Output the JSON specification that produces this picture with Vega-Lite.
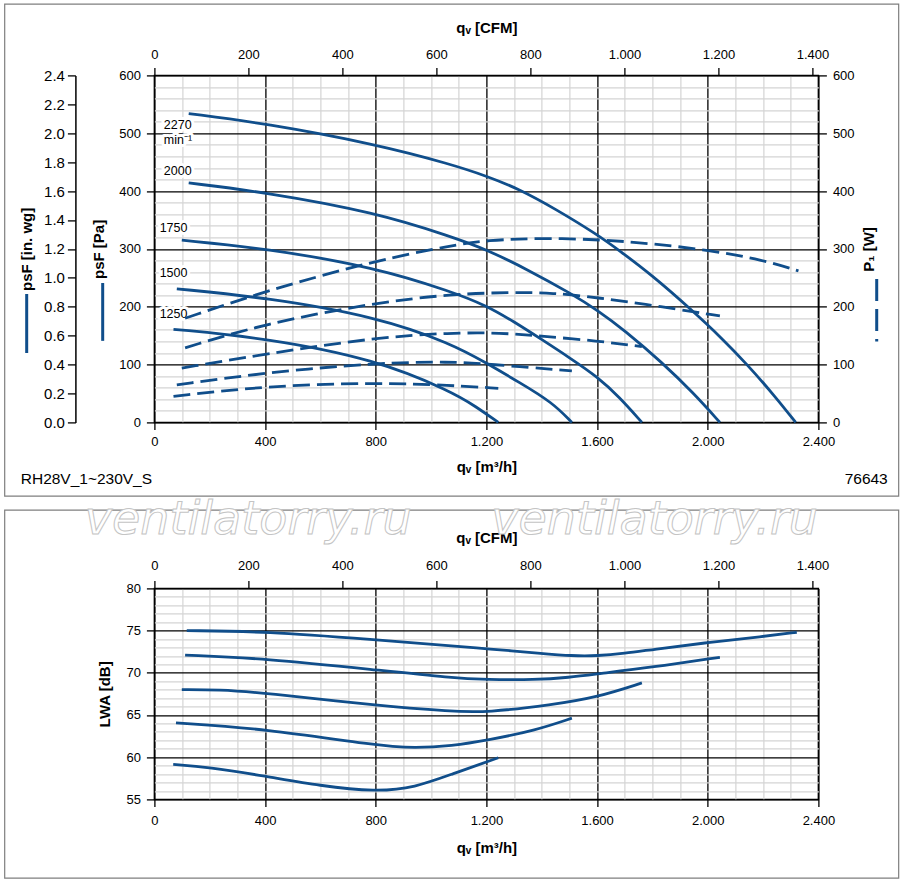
{
  "$schema": "https://vega.github.io/schema/vega-lite/v6.json",
  "background": "white",
  "padding": {"left": 2.4, "top": 2.4, "right": 2, "bottom": 1},
  "bounds": "flush",
  "spacing": 166,
  "config": {
    "view": {"stroke": "#000", "strokeWidth": 1.5},
    "axis": {
      "labelFont": "Liberation Sans", "titleFont": "Liberation Sans",
      "labelColor": "#000", "titleColor": "#000", "tickColor": "#000", "domainColor": "#000",
      "labelFontSize": 13, "titleFontSize": 15, "titleFontWeight": "bold", "labelFlush": false,
      "gridColor": "#000", "gridWidth": 1.3, "tickWidth": 1.3, "domainWidth": 1.5
    },
    "text": {"font": "Liberation Sans"}
  },
  "datasets": {
    "pressure": [
      {"n": 2270, "q": 124, "p": 534}, {"n": 2270, "q": 400, "p": 517}, {"n": 2270, "q": 800, "p": 481},
      {"n": 2270, "q": 1075, "p": 446}, {"n": 2270, "q": 1200, "p": 426}, {"n": 2270, "q": 1316, "p": 404},
      {"n": 2270, "q": 1450, "p": 369}, {"n": 2270, "q": 1600, "p": 325}, {"n": 2270, "q": 1681, "p": 297},
      {"n": 2270, "q": 1800, "p": 254}, {"n": 2270, "q": 1943, "p": 194}, {"n": 2270, "q": 2050, "p": 146},
      {"n": 2270, "q": 2141, "p": 101}, {"n": 2270, "q": 2240, "p": 47}, {"n": 2270, "q": 2318, "p": 0},
      {"n": 2000, "q": 124, "p": 414}, {"n": 2000, "q": 400, "p": 398}, {"n": 2000, "q": 800, "p": 363},
      {"n": 2000, "q": 1075, "p": 321}, {"n": 2000, "q": 1200, "p": 299}, {"n": 2000, "q": 1350, "p": 264},
      {"n": 2000, "q": 1509, "p": 222}, {"n": 2000, "q": 1601, "p": 194}, {"n": 2000, "q": 1700, "p": 159},
      {"n": 2000, "q": 1834, "p": 104}, {"n": 2000, "q": 1950, "p": 50}, {"n": 2000, "q": 2044, "p": 0},
      {"n": 1750, "q": 99, "p": 315}, {"n": 1750, "q": 400, "p": 301}, {"n": 1750, "q": 800, "p": 268},
      {"n": 1750, "q": 1075, "p": 226}, {"n": 1750, "q": 1200, "p": 202}, {"n": 1750, "q": 1300, "p": 174},
      {"n": 1750, "q": 1401, "p": 143}, {"n": 1750, "q": 1500, "p": 112}, {"n": 1750, "q": 1601, "p": 79},
      {"n": 1750, "q": 1680, "p": 44}, {"n": 1750, "q": 1762, "p": 0},
      {"n": 1500, "q": 81, "p": 231}, {"n": 1500, "q": 400, "p": 216}, {"n": 1500, "q": 800, "p": 183},
      {"n": 1500, "q": 1075, "p": 136}, {"n": 1500, "q": 1202, "p": 102}, {"n": 1500, "q": 1320, "p": 69},
      {"n": 1500, "q": 1437, "p": 35}, {"n": 1500, "q": 1509, "p": 0},
      {"n": 1250, "q": 69, "p": 161}, {"n": 1250, "q": 400, "p": 146}, {"n": 1250, "q": 800, "p": 109},
      {"n": 1250, "q": 1075, "p": 53}, {"n": 1250, "q": 1160, "p": 28}, {"n": 1250, "q": 1243, "p": 0}
    ],
    "power": [
      {"n": 2270, "q": 111, "w": 180}, {"n": 2270, "q": 400, "w": 227}, {"n": 2270, "q": 800, "w": 280},
      {"n": 2270, "q": 1075, "w": 306}, {"n": 2270, "q": 1200, "w": 315}, {"n": 2270, "q": 1400, "w": 319},
      {"n": 2270, "q": 1617, "w": 316}, {"n": 2270, "q": 1800, "w": 309}, {"n": 2270, "q": 2002, "w": 298},
      {"n": 2270, "q": 2200, "w": 281}, {"n": 2270, "q": 2328, "w": 262},
      {"n": 2000, "q": 111, "w": 129}, {"n": 2000, "q": 400, "w": 171}, {"n": 2000, "q": 800, "w": 207},
      {"n": 2000, "q": 1075, "w": 222}, {"n": 2000, "q": 1300, "w": 225}, {"n": 2000, "q": 1437, "w": 224},
      {"n": 2000, "q": 1601, "w": 216}, {"n": 2000, "q": 1834, "w": 200}, {"n": 2000, "q": 2044, "w": 184},
      {"n": 1750, "q": 99, "w": 94}, {"n": 1750, "q": 400, "w": 118}, {"n": 1750, "q": 800, "w": 147},
      {"n": 1750, "q": 1075, "w": 155}, {"n": 1750, "q": 1250, "w": 155}, {"n": 1750, "q": 1401, "w": 149},
      {"n": 1750, "q": 1601, "w": 141}, {"n": 1750, "q": 1762, "w": 131},
      {"n": 1500, "q": 81, "w": 65}, {"n": 1500, "q": 400, "w": 86}, {"n": 1500, "q": 800, "w": 103},
      {"n": 1500, "q": 1075, "w": 105}, {"n": 1500, "q": 1202, "w": 101}, {"n": 1500, "q": 1509, "w": 89},
      {"n": 1250, "q": 69, "w": 45}, {"n": 1250, "q": 400, "w": 63}, {"n": 1250, "q": 800, "w": 69},
      {"n": 1250, "q": 1075, "w": 64}, {"n": 1250, "q": 1243, "w": 59}
    ],
    "sound": [
      {"n": 2270, "q": 117, "l": 75.0}, {"n": 2270, "q": 400, "l": 74.9}, {"n": 2270, "q": 800, "l": 73.9},
      {"n": 2270, "q": 1075, "l": 73.2}, {"n": 2270, "q": 1202, "l": 72.85}, {"n": 2270, "q": 1400, "l": 72.3},
      {"n": 2270, "q": 1509, "l": 72.0}, {"n": 2270, "q": 1601, "l": 72.0}, {"n": 2270, "q": 1700, "l": 72.3},
      {"n": 2270, "q": 1798, "l": 72.75}, {"n": 2270, "q": 2002, "l": 73.6}, {"n": 2270, "q": 2200, "l": 74.3},
      {"n": 2270, "q": 2322, "l": 74.8},
      {"n": 2000, "q": 111, "l": 72.1}, {"n": 2000, "q": 400, "l": 71.7}, {"n": 2000, "q": 800, "l": 70.35},
      {"n": 2000, "q": 1075, "l": 69.4}, {"n": 2000, "q": 1202, "l": 69.2}, {"n": 2000, "q": 1375, "l": 69.16},
      {"n": 2000, "q": 1500, "l": 69.45}, {"n": 2000, "q": 1601, "l": 69.87}, {"n": 2000, "q": 1798, "l": 70.65},
      {"n": 2000, "q": 2044, "l": 71.84},
      {"n": 1750, "q": 99, "l": 68.0}, {"n": 1750, "q": 231, "l": 68.0}, {"n": 1750, "q": 400, "l": 67.62},
      {"n": 1750, "q": 800, "l": 66.12}, {"n": 1750, "q": 1075, "l": 65.41}, {"n": 1750, "q": 1202, "l": 65.3},
      {"n": 1750, "q": 1437, "l": 66.2}, {"n": 1750, "q": 1601, "l": 67.1}, {"n": 1750, "q": 1762, "l": 68.8},
      {"n": 1500, "q": 78, "l": 64.07}, {"n": 1500, "q": 400, "l": 63.37}, {"n": 1500, "q": 800, "l": 61.39},
      {"n": 1500, "q": 942, "l": 61.05}, {"n": 1500, "q": 1075, "l": 61.35}, {"n": 1500, "q": 1202, "l": 62.0},
      {"n": 1500, "q": 1376, "l": 63.16}, {"n": 1500, "q": 1509, "l": 64.62},
      {"n": 1250, "q": 68, "l": 59.14}, {"n": 1250, "q": 194, "l": 58.82}, {"n": 1250, "q": 400, "l": 57.76},
      {"n": 1250, "q": 600, "l": 56.6}, {"n": 1250, "q": 800, "l": 55.9},
      {"n": 1250, "q": 942, "l": 56.4}, {"n": 1250, "q": 1075, "l": 58.0}, {"n": 1250, "q": 1243, "l": 59.93}
    ],
    "speedLabels": [
      {"t": "2270", "q": 34, "p": 514}, {"t": "min⁻¹", "q": 34, "p": 489},
      {"t": "2000", "q": 34, "p": 435}, {"t": "1750", "q": 19, "p": 336},
      {"t": "1500", "q": 19, "p": 259}, {"t": "1250", "q": 19, "p": 187}
    ]
  },
  "vconcat": [
    {
      "width": 664,
      "height": 347,
      "resolve": {"scale": {"x": "independent", "y": "independent"}},
      "layer": [
        {
          "data": {"values": [{}]},
          "mark": {"type": "point", "opacity": 0},
          "encoding": {
            "x": {"datum": 0, "type": "quantitative", "scale": {"domain": [0, 2400], "nice": false, "zero": false},
              "axis": {"orient": "bottom", "values": [100, 200, 300, 500, 600, 700, 900, 1000, 1100, 1300, 1400, 1500, 1700, 1800, 1900, 2100, 2200, 2300],
                "grid": true, "gridColor": "#d4d4d4", "gridWidth": 1.2, "labels": false, "ticks": false, "domain": false, "title": null}},
            "y": {"datum": 0, "type": "quantitative", "scale": {"domain": [0, 600], "nice": false},
              "axis": {"orient": "left", "values": [20, 40, 60, 80, 120, 140, 160, 180, 220, 240, 260, 280, 320, 340, 360, 380, 420, 440, 460, 480, 520, 540, 560, 580],
                "grid": true, "gridColor": "#d4d4d4", "gridWidth": 1.2, "labels": false, "ticks": false, "domain": false, "title": null}}
          }
        },
        {
          "layer": [
            {
              "data": {"values": [{}]},
              "mark": {"type": "rect", "filled": false, "color": "#7f7f7f", "strokeWidth": 1.2},
              "encoding": {
                "x": {"datum": -541.1, "type": "quantitative", "scale": {"domain": [0, 2400], "nice": false, "zero": false}},
                "x2": {"datum": 2690.2},
                "y": {"datum": 723.3, "type": "quantitative", "scale": {"domain": [0, 600], "nice": false}},
                "y2": {"datum": -127.4}
              }
            },
            {
              "data": {"values": [{}]},
              "mark": {"type": "rule", "color": "#104e8b", "strokeWidth": 3},
              "encoding": {
                "x": {"datum": -461.6, "type": "quantitative", "scale": {"domain": [0, 2400], "nice": false, "zero": false}},
                "y": {"datum": 222, "type": "quantitative", "scale": {"domain": [0, 600], "nice": false}},
                "y2": {"datum": 120}
              }
            },
            {
              "data": {"values": [{}]},
              "mark": {"type": "rule", "color": "#104e8b", "strokeWidth": 3},
              "encoding": {
                "x": {"datum": -186.9, "type": "quantitative", "scale": {"domain": [0, 2400], "nice": false, "zero": false}},
                "y": {"datum": 241, "type": "quantitative", "scale": {"domain": [0, 600], "nice": false}},
                "y2": {"datum": 141}
              }
            },
            {
              "data": {"values": [{}]},
              "mark": {"type": "rule", "color": "#104e8b", "strokeWidth": 3, "strokeDash": [22, 8]},
              "encoding": {
                "x": {"datum": 2610.8, "type": "quantitative", "scale": {"domain": [0, 2400], "nice": false, "zero": false}},
                "y": {"datum": 248, "type": "quantitative", "scale": {"domain": [0, 600], "nice": false}},
                "y2": {"datum": 140}
              }
            },
            {
              "data": {"values": [{}]},
              "mark": {"type": "text", "align": "left", "baseline": "middle", "fontSize": 15.5, "color": "#000"},
              "encoding": {
                "text": {"value": "RH28V_1~230V_S"},
                "x": {"datum": -483, "type": "quantitative", "scale": {"domain": [0, 2400], "nice": false, "zero": false}},
                "y": {"datum": -98, "type": "quantitative", "scale": {"domain": [0, 600], "nice": false}}
              }
            },
            {
              "data": {"values": [{}]},
              "mark": {"type": "text", "align": "right", "baseline": "middle", "fontSize": 15.5, "color": "#000"},
              "encoding": {
                "text": {"value": "76643"},
                "x": {"datum": 2650.6, "type": "quantitative", "scale": {"domain": [0, 2400], "nice": false, "zero": false}},
                "y": {"datum": -98, "type": "quantitative", "scale": {"domain": [0, 600], "nice": false}}
              }
            },
            {
              "data": {"name": "speedLabels"},
              "mark": {"type": "text", "align": "left", "baseline": "middle", "fontSize": 12.5, "fill": "#fff", "stroke": "#fff", "strokeWidth": 6, "strokeJoin": "round"},
              "encoding": {
                "text": {"field": "t"},
                "x": {"field": "q", "type": "quantitative", "scale": {"domain": [0, 2400], "nice": false, "zero": false}},
                "y": {"field": "p", "type": "quantitative", "scale": {"domain": [0, 600], "nice": false}}
              }
            },
            {
              "data": {"name": "speedLabels"},
              "mark": {"type": "text", "align": "left", "baseline": "middle", "fontSize": 12.5, "color": "#000"},
              "encoding": {
                "text": {"field": "t"},
                "x": {"field": "q", "type": "quantitative", "scale": {"domain": [0, 2400], "nice": false, "zero": false}},
                "y": {"field": "p", "type": "quantitative", "scale": {"domain": [0, 600], "nice": false}}
              }
            },
            {
              "data": {"name": "power"},
              "mark": {"type": "line", "interpolate": "basis", "color": "#104e8b", "strokeWidth": 2.8, "strokeDash": [17, 7]},
              "encoding": {
                "x": {"field": "q", "type": "quantitative", "scale": {"domain": [0, 2400], "nice": false, "zero": false}},
                "y": {"field": "w", "type": "quantitative", "scale": {"domain": [0, 600], "nice": false}},
                "detail": {"field": "n"}
              }
            },
            {
              "data": {"name": "pressure"},
              "mark": {"type": "line", "interpolate": "basis", "color": "#104e8b", "strokeWidth": 2.8},
              "encoding": {
                "x": {"field": "q", "type": "quantitative", "scale": {"domain": [0, 2400], "nice": false, "zero": false},
                  "axis": {"orient": "bottom", "values": [0, 400, 800, 1200, 1600, 2000, 2400],
                    "labelExpr": "replace(format(datum.value, ','), ',', '.')",
                    "grid": true, "tickSize": 7, "domain": false, "labelPadding": 6, "title": "qᵥ [m³/h]", "titlePadding": 11}},
                "y": {"field": "p", "type": "quantitative", "scale": {"domain": [0, 600], "nice": false},
                  "axis": {"orient": "left", "values": [0, 100, 200, 300, 400, 500, 600], "grid": true, "tickSize": 8,
                    "labelPadding": 6, "domain": false, "title": "psF [Pa]", "titlePadding": 12}},
                "detail": {"field": "n"}
              }
            }
          ]
        },
        {
          "data": {"values": [{}]},
          "mark": {"type": "point", "opacity": 0},
          "encoding": {
            "x": {"datum": 0, "type": "quantitative", "scale": {"domain": [0, 1412.6], "nice": false, "zero": false},
              "axis": {"orient": "top", "values": [0, 200, 400, 600, 800, 1000, 1200, 1400],
                "labelExpr": "replace(format(datum.value, ','), ',', '.')",
                "grid": false, "tickSize": 8, "domain": false, "labelPadding": 6, "title": "qᵥ [CFM]", "titlePadding": 13}},
            "y": {"datum": 0, "type": "quantitative", "scale": {"domain": [0, 2.4], "nice": false},
              "axis": {"orient": "left", "offset": 79, "values": [0, 0.2, 0.4, 0.6, 0.8, 1.0, 1.2, 1.4, 1.6, 1.8, 2.0, 2.2, 2.4],
                "format": ".1f", "grid": false, "tickSize": 8, "domain": true, "labelPadding": 3, "labelFontSize": 15,
                "title": "psF [in. wg]", "titlePadding": 9}}
          }
        },
        {
          "data": {"values": [{}]},
          "mark": {"type": "point", "opacity": 0},
          "encoding": {
            "y": {"datum": 0, "type": "quantitative", "scale": {"domain": [0, 600], "nice": false},
              "axis": {"orient": "right", "values": [0, 100, 200, 300, 400, 500, 600], "grid": false, "tickSize": 8,
                "domain": false, "labelPadding": 6, "title": "P₁ [W]", "titleAngle": 270, "titlePadding": 22}}
          }
        }
      ]
    },
    {
      "width": 664,
      "height": 211,
      "resolve": {"scale": {"x": "independent", "y": "independent"}},
      "layer": [
        {
          "data": {"values": [{}]},
          "mark": {"type": "point", "opacity": 0},
          "encoding": {
            "x": {"datum": 0, "type": "quantitative", "scale": {"domain": [0, 2400], "nice": false, "zero": false},
              "axis": {"orient": "bottom", "values": [100, 200, 300, 500, 600, 700, 900, 1000, 1100, 1300, 1400, 1500, 1700, 1800, 1900, 2100, 2200, 2300],
                "grid": true, "gridColor": "#d4d4d4", "gridWidth": 1.2, "labels": false, "ticks": false, "domain": false, "title": null}},
            "y": {"datum": 55, "type": "quantitative", "scale": {"domain": [55, 80], "nice": false, "zero": false},
              "axis": {"orient": "left", "values": [56, 57, 58, 59, 61, 62, 63, 64, 66, 67, 68, 69, 71, 72, 73, 74, 76, 77, 78, 79],
                "grid": true, "gridColor": "#d4d4d4", "gridWidth": 1.2, "labels": false, "ticks": false, "domain": false, "title": null}}
          }
        },
        {
          "layer": [
            {
              "data": {"values": [{}]},
              "mark": {"type": "rect", "filled": false, "color": "#7f7f7f", "strokeWidth": 1.2},
              "encoding": {
                "x": {"datum": -541.1, "type": "quantitative", "scale": {"domain": [0, 2400], "nice": false, "zero": false}},
                "x2": {"datum": 2690.2},
                "y": {"datum": 89.28, "type": "quantitative", "scale": {"domain": [55, 80], "nice": false, "zero": false}},
                "y2": {"datum": 45.68}
              }
            },
            {
              "data": {"values": [{}]},
              "mark": {"type": "text", "align": "center", "baseline": "alphabetic", "font": "DejaVu Sans", "fontStyle": "italic",
                "fontSize": 46, "fill": "#fff", "stroke": "#c4c4c4", "strokeWidth": 1},
              "encoding": {
                "text": {"value": "ventilatorry.ru"},
                "x": {"datum": 339, "type": "quantitative", "scale": {"domain": [0, 2400], "nice": false, "zero": false}},
                "y": {"datum": 86.43, "type": "quantitative", "scale": {"domain": [55, 80], "nice": false, "zero": false}}
              }
            },
            {
              "data": {"values": [{}]},
              "mark": {"type": "text", "align": "center", "baseline": "alphabetic", "font": "DejaVu Sans", "fontStyle": "italic",
                "fontSize": 46, "fill": "#fff", "stroke": "#c4c4c4", "strokeWidth": 1},
              "encoding": {
                "text": {"value": "ventilatorry.ru"},
                "x": {"datum": 1808, "type": "quantitative", "scale": {"domain": [0, 2400], "nice": false, "zero": false}},
                "y": {"datum": 86.43, "type": "quantitative", "scale": {"domain": [55, 80], "nice": false, "zero": false}}
              }
            },
            {
              "data": {"name": "sound"},
              "mark": {"type": "line", "interpolate": "basis", "color": "#104e8b", "strokeWidth": 2.8},
              "encoding": {
                "x": {"field": "q", "type": "quantitative", "scale": {"domain": [0, 2400], "nice": false, "zero": false},
                  "axis": {"orient": "bottom", "values": [0, 400, 800, 1200, 1600, 2000, 2400],
                    "labelExpr": "replace(format(datum.value, ','), ',', '.')",
                    "grid": true, "tickSize": 7, "domain": false, "labelPadding": 8, "title": "qᵥ [m³/h]", "titlePadding": 13}},
                "y": {"field": "l", "type": "quantitative", "scale": {"domain": [55, 80], "nice": false, "zero": false},
                  "axis": {"orient": "left", "values": [55, 60, 65, 70, 75, 80], "grid": true, "tickSize": 8,
                    "labelPadding": 6, "domain": false, "title": "LWA [dB]", "titlePadding": 13}},
                "detail": {"field": "n"}
              }
            }
          ]
        },
        {
          "data": {"values": [{}]},
          "mark": {"type": "point", "opacity": 0},
          "encoding": {
            "x": {"datum": 0, "type": "quantitative", "scale": {"domain": [0, 1412.6], "nice": false, "zero": false},
              "axis": {"orient": "top", "values": [0, 200, 400, 600, 800, 1000, 1200, 1400],
                "labelExpr": "replace(format(datum.value, ','), ',', '.')",
                "grid": false, "tickSize": 8, "domain": false, "labelPadding": 8, "title": "qᵥ [CFM]", "titlePadding": 14}}
          }
        }
      ]
    }
  ]
}
